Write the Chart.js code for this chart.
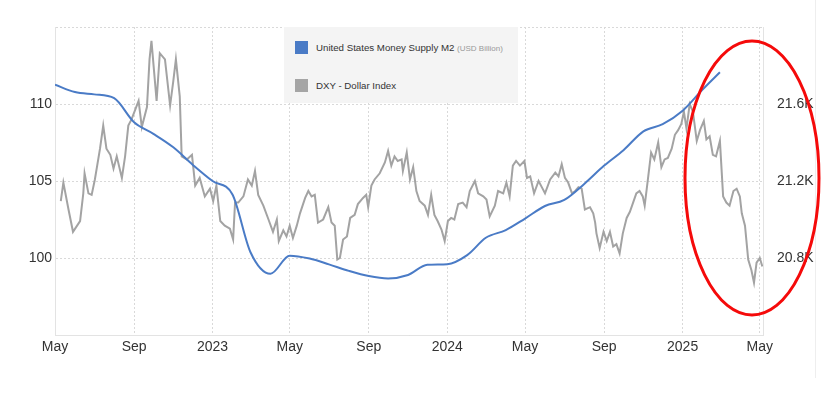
<!DOCTYPE html>
<html>
<head>
<meta charset="utf-8">
<script src="https://cdn.jsdelivr.net/npm/chart.js@4.4.1/dist/chart.umd.min.js"></script>
<style>
  body { margin: 0; background: #fff; }
  #wrap { position: relative; width: 828px; height: 397px; }
  #legend { position: absolute; left: 284px; top: 27px; width: 234px; height: 76px; background: #f4f4f4;
            font-family: 'Liberation Sans', Arial, sans-serif; color: #333; }
  .sw { position: absolute; left: 11px; width: 13px; height: 13px; }
  .txt { position: absolute; left: 32px; font-size: 9.7px; line-height: 13px; white-space: nowrap; }
  .unit { font-size: 8px; color: #999; }
</style>
</head>
<body>
<div id="wrap">
  <canvas id="myChart" width="828" height="397"></canvas>
  <div id="legend">
    <div class="sw" style="top:14px;background:#4a7bc6"></div>
    <div class="txt" style="top:13.5px">United States Money Supply M2 <span class="unit">(USD Billion)</span></div>
    <div class="sw" style="top:52px;background:#a5a5a5"></div>
    <div class="txt" style="top:51.5px">DXY - Dollar Index</div>
  </div>
</div>
<script>
// x axis ticks
var tickDates = ['2022-05-01', '2022-09-01', '2023-01-01', '2023-05-01', '2023-09-01',
                 '2024-01-01', '2024-05-01', '2024-09-01', '2025-01-01', '2025-05-01'];
var tickLabels = ['May', 'Sep', '2023', 'May', 'Sep', '2024', 'May', 'Sep', '2025', 'May'];

// US money supply M2, USD billion (monthly)
var m2Dates = ['2022-05-01', '2022-06-01', '2022-07-01', '2022-08-01', '2022-09-01', '2022-10-01',
               '2022-11-01', '2022-12-01', '2023-01-01', '2023-02-01', '2023-03-01', '2023-04-01',
               '2023-05-01', '2023-06-01', '2023-07-01', '2023-08-01', '2023-09-01', '2023-10-01',
               '2023-11-01', '2023-12-01', '2024-01-01', '2024-02-01', '2024-03-01', '2024-04-01',
               '2024-05-01', '2024-06-01', '2024-07-01', '2024-08-01', '2024-09-01', '2024-10-01',
               '2024-11-01', '2024-12-01', '2025-01-01', '2025-02-01', '2025-02-28'];
var m2Values = [21700, 21662, 21650, 21630, 21505, 21445, 21375, 21285, 21200, 21130, 20830, 20718,
                20812, 20797, 20767, 20733, 20706, 20694, 20712, 20765, 20768, 20815, 20905, 20945,
                21005, 21070, 21102, 21185, 21280, 21360, 21458, 21495, 21565, 21675, 21765];

// DXY dollar index
var dxyDates = ['2022-05-10', '2022-05-14', '2022-05-22', '2022-05-29', '2022-06-09', '2022-06-14', '2022-06-16',
  '2022-06-22', '2022-06-27', '2022-07-02', '2022-07-10', '2022-07-15', '2022-07-20', '2022-07-26', '2022-07-31',
  '2022-08-05', '2022-08-13', '2022-08-18', '2022-08-23', '2022-08-28', '2022-09-08', '2022-09-13', '2022-09-21',
  '2022-09-25', '2022-09-28', '2022-10-06', '2022-10-11', '2022-10-19', '2022-10-27', '2022-11-01', '2022-11-05',
  '2022-11-11', '2022-11-14', '2022-11-22', '2022-11-30', '2022-12-05', '2022-12-12', '2022-12-20', '2022-12-28',
  '2023-01-02', '2023-01-07', '2023-01-13', '2023-01-20', '2023-01-28', '2023-02-02', '2023-02-05', '2023-02-10',
  '2023-02-18', '2023-02-25', '2023-03-03', '2023-03-08', '2023-03-13', '2023-03-21', '2023-03-29', '2023-04-05',
  '2023-04-11', '2023-04-14', '2023-04-21', '2023-04-26', '2023-05-01', '2023-05-06', '2023-05-12', '2023-05-17',
  '2023-05-25', '2023-05-30', '2023-06-04', '2023-06-09', '2023-06-14', '2023-06-22', '2023-06-30', '2023-07-05',
  '2023-07-10', '2023-07-14', '2023-07-18', '2023-07-23', '2023-07-29', '2023-08-03', '2023-08-10', '2023-08-15',
  '2023-08-23', '2023-08-28', '2023-08-31', '2023-09-05', '2023-09-10', '2023-09-18', '2023-09-26', '2023-10-01',
  '2023-10-06', '2023-10-11', '2023-10-16', '2023-10-22', '2023-10-24', '2023-10-30', '2023-11-04', '2023-11-09',
  '2023-11-14', '2023-11-19', '2023-11-27', '2023-12-02', '2023-12-07', '2023-12-12', '2023-12-17', '2023-12-23',
  '2023-12-28', '2024-01-02', '2024-01-07', '2024-01-12', '2024-01-18', '2024-01-25', '2024-01-31', '2024-02-05',
  '2024-02-13', '2024-02-18', '2024-02-26', '2024-03-02', '2024-03-07', '2024-03-15', '2024-03-20', '2024-03-28',
  '2024-04-02', '2024-04-07', '2024-04-12', '2024-04-17', '2024-04-23', '2024-04-30', '2024-05-04', '2024-05-09',
  '2024-05-15', '2024-05-22', '2024-05-27', '2024-06-01', '2024-06-09', '2024-06-17', '2024-06-22', '2024-06-27',
  '2024-07-02', '2024-07-07', '2024-07-13', '2024-07-18', '2024-07-23', '2024-07-28', '2024-08-02', '2024-08-10',
  '2024-08-15', '2024-08-18', '2024-08-20', '2024-08-25', '2024-08-31', '2024-09-05', '2024-09-10', '2024-09-15',
  '2024-09-20', '2024-09-25', '2024-09-30', '2024-10-06', '2024-10-11', '2024-10-16', '2024-10-21', '2024-10-26',
  '2024-10-31', '2024-11-03', '2024-11-08', '2024-11-13', '2024-11-18', '2024-11-24', '2024-11-29', '2024-12-04',
  '2024-12-09', '2024-12-15', '2024-12-20', '2024-12-25', '2024-12-30', '2025-01-03', '2025-01-07', '2025-01-12',
  '2025-01-17', '2025-01-23', '2025-01-28', '2025-02-03', '2025-02-07', '2025-02-12', '2025-02-17', '2025-02-22',
  '2025-02-28', '2025-03-05', '2025-03-10', '2025-03-15', '2025-03-21', '2025-03-26', '2025-03-31', '2025-04-03',
  '2025-04-08', '2025-04-13', '2025-04-18', '2025-04-22', '2025-04-26', '2025-05-01', '2025-05-05'];
var dxyValues = [103.7, 104.9, 103.15, 101.7, 102.4, 104.2, 105.5, 104.2, 104.1, 105.1, 107.1, 108.6, 107.1, 106.7, 105.8,
  106.6, 105.2, 106.6, 108.6, 109.0, 110.2, 108.5, 109.8, 112.9, 114.1, 110.2, 113.3, 112.9, 109.9, 111.5, 112.9,
  110.5, 106.6, 106.4, 106.7, 104.7, 105.2, 104.0, 104.5, 103.7, 104.7, 102.4, 102.1, 101.9, 101.2, 103.6, 103.6,
  104.0, 105.1, 104.7, 105.65, 104.1, 103.4, 102.5, 101.7, 102.5, 101.1, 101.8, 101.4, 102.1, 101.3, 102.1, 102.9,
  103.9, 104.35, 104.0, 104.1, 102.3, 102.5, 103.3, 102.3, 102.1, 99.9, 100.0, 101.2, 101.4, 102.6, 102.8, 103.5,
  103.9, 104.1, 103.3, 104.7, 105.1, 105.5, 106.2, 106.95, 106.0, 106.6, 106.3, 106.4, 105.65, 106.85, 105.1, 105.9,
  104.35, 103.7, 103.4, 102.8, 104.1, 102.8, 102.4, 101.85, 101.1, 102.4, 102.6, 102.5, 103.5, 103.6, 103.3, 104.35,
  105.0, 104.2, 104.0, 103.8, 102.7, 103.4, 104.35, 104.2, 104.9, 104.0, 106.0, 106.3, 106.0, 106.3, 105.2, 105.3,
  104.2, 105.0, 104.6, 104.2, 105.1, 105.55, 105.3, 106.1, 105.2, 104.9, 104.2, 104.35, 104.6, 104.5, 103.15, 103.3,
  102.9, 102.3, 101.6, 100.65, 101.7, 101.1, 101.7, 100.75, 100.9, 100.3, 101.6, 102.6, 103.0, 103.6, 104.2, 104.35,
  104.0, 103.4, 105.1, 106.85, 106.4, 107.5, 105.9, 106.4, 106.5, 107.1, 108.0, 108.3, 108.7, 109.5, 108.4, 110.0,
  109.5, 107.6, 108.3, 108.9, 107.7, 107.9, 106.7, 106.6, 107.6, 104.0, 103.6, 103.4, 104.35, 104.5, 104.0, 102.9,
  102.1, 99.9, 99.2, 98.4, 99.7, 100.0, 99.45];

var dayMs = 86400000;
var start = Date.parse('2022-05-01');
function toDay(s) {
    return (Date.parse(s) - start) / dayMs;
}
function points(dates, values) {
    return dates.map(function (d, i) { return { x: toDay(d), y: values[i] }; });
}

var fontFamily = "'Liberation Sans', Arial, Helvetica, sans-serif";
Chart.defaults.font.family = fontFamily;

// red ring drawn over the last months
var markPlugin = {
    id: 'mark',
    afterDraw: function (chart) {
        var c = chart.ctx;
        c.save();
        c.strokeStyle = '#eeeeee';
        c.lineWidth = 1;
        c.beginPath();
        c.moveTo(815.5, 0);
        c.lineTo(815.5, 378);
        c.stroke();
        c.strokeStyle = '#f50a0a';
        c.lineWidth = 3;
        c.beginPath();
        c.ellipse(752, 178, 67, 137, 0, 0, Math.PI * 2);
        c.stroke();
        c.restore();
    }
};

var gridColor = '#d9d9d9';
var axisColor = '#e3e3e3';
var labelColor = '#333';

var ctx = document.getElementById('myChart').getContext('2d');
var myChart = new Chart(ctx, {
    type: 'line',
    data: {
        datasets: [{
            label: 'United States Money Supply M2',
            data: points(m2Dates, m2Values),
            yAxisID: 'y1',
            borderColor: '#4a7bc6',
            borderWidth: 2,
            cubicInterpolationMode: 'monotone',
            pointRadius: 0
        }, {
            label: 'DXY - Dollar Index',
            data: points(dxyDates, dxyValues),
            yAxisID: 'y',
            borderColor: '#a3a3a3',
            borderWidth: 2,
            tension: 0,
            pointRadius: 0
        }]
    },
    options: {
        responsive: false,
        animation: false,
        layout: { padding: { top: 27, left: 0, right: 0, bottom: 0 } },
        plugins: {
            legend: { display: false },
            tooltip: { enabled: false }
        },
        scales: {
            x: {
                type: 'linear',
                min: 0,
                max: toDay('2025-05-06'),
                afterBuildTicks: function (scale) {
                    scale.ticks = tickDates.map(function (d) { return { value: toDay(d) }; });
                },
                afterFit: function (scale) { scale.height = 62; },
                ticks: {
                    autoSkip: false,
                    maxRotation: 0,
                    padding: 4,
                    color: labelColor,
                    font: { size: 14 },
                    callback: function (v, i) { return tickLabels[i]; }
                },
                grid: { color: gridColor, drawTicks: false },
                border: { color: axisColor, dash: [2, 2] }
            },
            y: {
                position: 'left',
                min: 95,
                max: 115,
                afterFit: function (scale) { scale.width = 55; },
                ticks: {
                    stepSize: 5,
                    padding: 3,
                    color: labelColor,
                    font: { size: 14 },
                    callback: function (v) { return (v === 95 || v === 115) ? '' : v; }
                },
                grid: { color: gridColor, drawTicks: false },
                border: { color: axisColor, dash: [2, 2] }
            },
            y1: {
                position: 'right',
                min: 20400,
                max: 22000,
                afterFit: function (scale) { scale.width = 65; },
                ticks: {
                    stepSize: 400,
                    padding: 6,
                    color: labelColor,
                    font: { size: 14 },
                    callback: function (v) { return (v === 20400 || v === 22000) ? '' : (v / 1000).toFixed(1) + 'K'; }
                },
                grid: { display: false },
                border: { color: axisColor }
            }
        }
    },
    plugins: [markPlugin]
});
</script>
</body>
</html>
